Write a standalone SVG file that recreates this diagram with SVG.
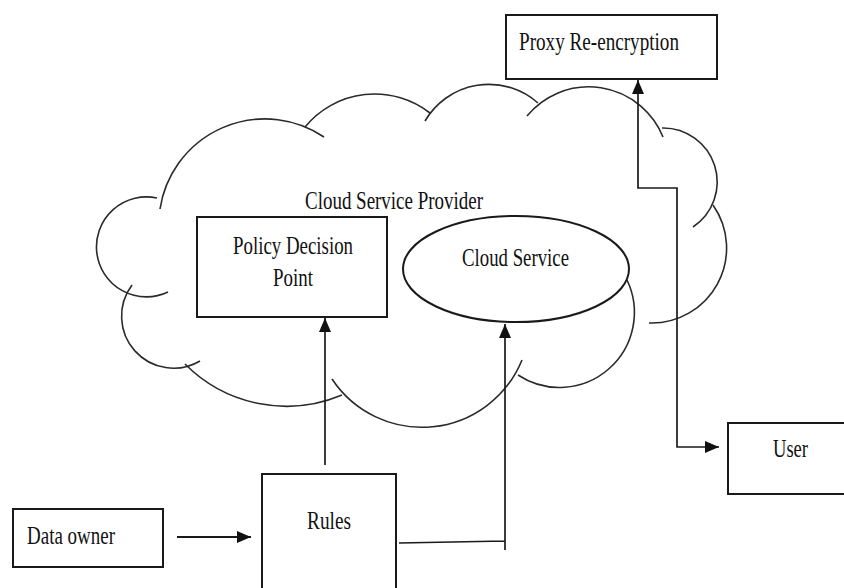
<svg xmlns="http://www.w3.org/2000/svg" width="844" height="588" viewBox="0 0 844 588">
<defs>
<style>
.box{fill:none;stroke:#1a1a1a;stroke-width:2}
.cl{fill:none;stroke:#2a2a2a;stroke-width:1.6}
.ln{fill:none;stroke:#1a1a1a;stroke-width:1.7}
.t{font-family:"Liberation Serif","Times New Roman",serif;font-size:26px;fill:#111}
</style>
<marker id="ah" markerUnits="userSpaceOnUse" markerWidth="16" markerHeight="14" viewBox="0 0 16 14" refX="14" refY="7" orient="auto-start-reverse">
<path d="M0,1 L14,7 L0,13 z" fill="#111"/>
</marker>
</defs>
<rect width="844" height="588" fill="#fff"/>
<g id="cloud">
<path class="cl" d="M160 209 A106 106 0 0 1 324 137"/>
<path class="cl" d="M305 127 A90 90 0 0 1 430 113"/>
<path class="cl" d="M425 121 A74 74 0 0 1 538 103"/>
<path class="cl" d="M527 116 A80 80 0 0 1 663 137"/>
<path class="cl" d="M662 128 A54 54 0 0 1 693 227"/>
<path class="cl" d="M713 205 A75 75 0 0 1 649 323"/>
<path class="cl" d="M627 280 A75 75 0 0 1 518 375"/>
<path class="cl" d="M522 360 A108 108 0 0 1 332 379"/>
<path class="cl" d="M185 364 A143 143 0 0 0 342 395"/>
<path class="cl" d="M132 285 A52 52 0 0 0 200 361"/>
<path class="cl" d="M157 198 A50 50 0 1 0 168 292"/>
<text class="t" x="305" y="209" textLength="178" lengthAdjust="spacingAndGlyphs">Cloud Service Provider</text>
</g>
<g id="proxy">
<rect class="box" x="506" y="15" width="211" height="64"/>
<text class="t" x="519" y="50" textLength="160" lengthAdjust="spacingAndGlyphs">Proxy Re-encryption</text>
</g>
<g id="pdp">
<rect class="box" x="197" y="217" width="190" height="100"/>
<text class="t" x="233" y="254" textLength="120" lengthAdjust="spacingAndGlyphs">Policy Decision</text>
<text class="t" x="273" y="286" textLength="40" lengthAdjust="spacingAndGlyphs">Point</text>
</g>
<g id="cloudservice">
<ellipse class="box" cx="516" cy="269" rx="113" ry="53"/>
<text class="t" x="462" y="266" textLength="107" lengthAdjust="spacingAndGlyphs">Cloud Service</text>
</g>
<g id="user">
<rect class="box" x="728" y="423" width="122" height="71"/>
<text class="t" x="773" y="457" textLength="35" lengthAdjust="spacingAndGlyphs">User</text>
</g>
<g id="dataowner">
<rect class="box" x="13" y="509" width="150" height="58"/>
<text class="t" x="27" y="544" textLength="88" lengthAdjust="spacingAndGlyphs">Data owner</text>
</g>
<g id="rules">
<rect class="box" x="262" y="474" width="134" height="130"/>
<text class="t" x="307" y="529" textLength="44" lengthAdjust="spacingAndGlyphs">Rules</text>
</g>
<g id="connectors">
<path class="ln" style="stroke-width:2.2" d="M177 537 L251 537" marker-end="url(#ah)"/>
<path class="ln" d="M325 465 L325 318" marker-end="url(#ah)"/>
<path class="ln" d="M399 543 L505 541 M505 550 L505 324" marker-end="url(#ah)"/>
<path class="ln" d="M638 80 L638 188 L677 188 L677 447 L719 447" marker-start="url(#ah)" marker-end="url(#ah)"/>
</g>
</svg>
